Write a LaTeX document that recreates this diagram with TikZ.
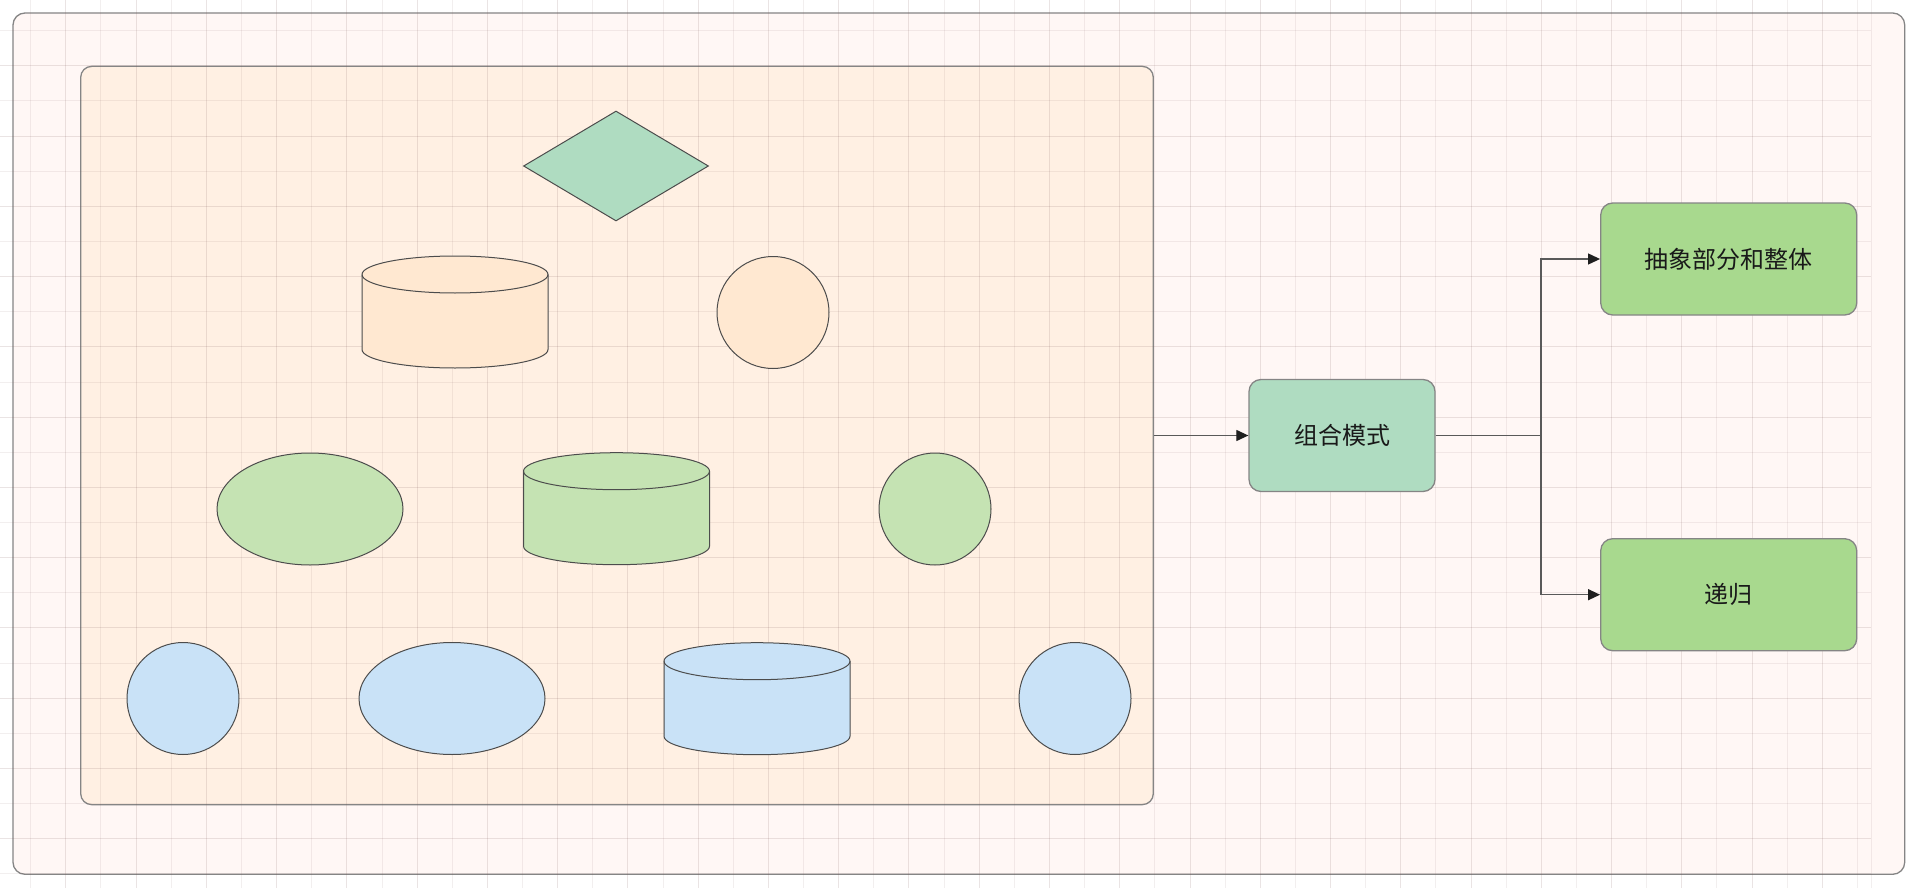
\documentclass[tikz,border=0pt]{standalone}
\usepackage{fontspec}
\newfontfamily\cjk{Noto Sans CJK SC}
\usetikzlibrary{shapes.geometric,arrows.meta}
\definecolor{paper}{HTML}{FFF7F5}
\definecolor{sand}{HTML}{FFF0E3}
\definecolor{peach}{HTML}{FFE8D1}
\definecolor{leaf}{HTML}{C5E3B3}
\definecolor{sky}{HTML}{C9E2F7}
\definecolor{mint}{HTML}{AFDCC1}
\definecolor{grass}{HTML}{A8D98E}
\definecolor{gridink}{HTML}{785050}
\begin{document}
\begin{tikzpicture}[x=1pt,y=-1pt,
    outline/.style={draw=black!48,line width=1.3pt},
    rim/.style={draw=black!70,line width=1pt},
    blob/.style={rim,inner sep=0pt},
    minorline/.style={draw=gridink,opacity=0.09,line width=1pt},
    majorline/.style={draw=gridink,opacity=0.15,line width=1pt},
    tag/.style={outline,rounded corners=12pt,inner sep=0pt,minimum height=112pt,
        font=\cjk\fontsize{24pt}{28pt}\selectfont,text=black!90},
    link/.style={draw=black!65,line width=1.2pt,-{Triangle[length=12pt,width=11pt,color=black!88]}}]
    \useasboundingbox (0,0) rectangle (1914,888);
    \fill[white] (0,0) rectangle (1914,888);
    % outer frame and the box of shapes
    \draw[outline,fill=paper,rounded corners=12pt] (13,13) rectangle (1904.7,874.3);
    \node[outline,fill=sand,rounded corners=11pt,inner sep=0pt,
        minimum width=1072.6pt,minimum height=738.3pt] (pool) at (617,435.5) {};
    % grid
    \foreach \k in {0,2,...,52}
    \draw[minorline] (30.7+35.13*\k,0) -- (30.7+35.13*\k,888);
    \foreach \k in {1,3,...,51}
    \draw[majorline] (30.7+35.13*\k,0) -- (30.7+35.13*\k,888);
    \foreach \k in {0,2,...,24}
    \draw[minorline] (0,30.7+35.13*\k) -- (1871,30.7+35.13*\k);
    \foreach \k in {1,3,...,23}
    \draw[majorline] (0,30.7+35.13*\k) -- (1871,30.7+35.13*\k);
    \draw[minorline] (1871,0) -- (1871,888);
    % shapes
    \node[blob,diamond,fill=mint,minimum width=185pt,minimum height=110pt] (rhombus) at (616,166) {};
    \node[blob,circle,fill=peach,minimum size=112pt] (dotA) at (773,312.5) {};
    \node[blob,ellipse,fill=leaf,minimum width=186pt,minimum height=112pt] (ovalA) at (310,509) {};
    \node[blob,circle,fill=leaf,minimum size=112pt] (dotB) at (935,509) {};
    \node[blob,circle,fill=sky,minimum size=112pt] (dotC) at (183,698.5) {};
    \node[blob,ellipse,fill=sky,minimum width=186pt,minimum height=112pt] (ovalB) at (452,698.5) {};
    \node[blob,circle,fill=sky,minimum size=112pt] (dotD) at (1075,698.5) {};
    \foreach \cx/\ty/\col in {455/256/peach, 616.5/452.7/leaf, 757/642.7/sky}{
    \filldraw[rim,fill=\col] (\cx-93,\ty+18.5) -- (\cx-93,\ty+93.5)
        arc[start angle=180,end angle=360,x radius=93pt,y radius=18.5pt] -- (\cx+93,\ty+18.5)
        arc[start angle=0,end angle=180,x radius=93pt,y radius=18.5pt] -- cycle;
    \draw[rim] (\cx-93,\ty+18.5) arc[start angle=180,end angle=360,x radius=93pt,y radius=18.5pt];
    }
    % right side
    \node[tag,fill=mint,minimum width=186pt] (composite) at (1342,435.5) {组合模式};
    \node[tag,fill=grass,minimum width=256pt] (whole) at (1728.7,259) {抽象部分和整体};
    \node[tag,fill=grass,minimum width=256pt] (recursion) at (1728.7,594.7) {递归};
    \coordinate (fork) at (1541,435.5);
    \draw[link] (pool.east) -- (composite.west);
    \draw[link] (composite.east) -- (fork) |- (whole.west);
    \draw[link] (composite.east) -- (fork) |- (recursion.west);
\end{tikzpicture}
\end{document}
